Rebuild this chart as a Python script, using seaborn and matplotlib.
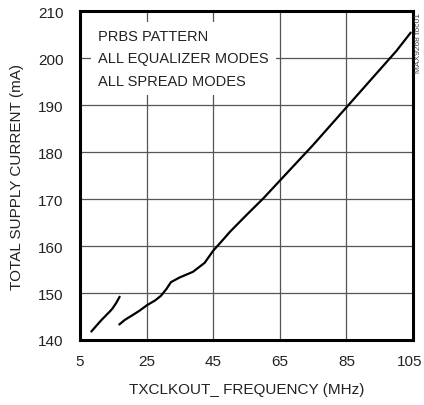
import matplotlib
matplotlib.use("Agg")
import matplotlib.pyplot as plt
import matplotlib.transforms as mtransforms
import seaborn as sns
import pandas as pd

# Low-frequency branch
freq_low = [8.4, 10.0, 11.5, 12.75, 14.0, 14.75, 15.8, 16.9]
curr_low = [141.8, 143.1, 144.3, 145.2, 146.1, 146.7, 147.8, 149.2]

# Main branch
freq_main = [16.8, 18.5, 20.8, 23.0, 25.1, 27.5, 29.3, 31.0, 32.3, 34.9, 38.9,
             42.4, 45.0, 47.9, 50.0, 55.0, 60.0, 65.0, 70.0, 75.0, 80.0, 85.0,
             90.0, 95.0, 100.0, 104.3]
curr_main = [143.3, 144.3, 145.3, 146.3, 147.4, 148.4, 149.4, 150.9, 152.3, 153.3, 154.5,
             156.4, 159.0, 161.3, 163.0, 166.6, 170.1, 173.9, 177.7, 181.5, 185.5, 189.5,
             193.5, 197.5, 201.5, 205.4]

x_ticks = [5, 25, 45, 65, 85, 105]
y_ticks = [140, 150, 160, 170, 180, 190, 200, 210]
notes = ["PRBS PATTERN", "ALL EQUALIZER MODES", "ALL SPREAD MODES"]

df = pd.concat([
    pd.DataFrame({"freq": freq_low, "curr": curr_low, "branch": "low"}),
    pd.DataFrame({"freq": freq_main, "curr": curr_main, "branch": "main"}),
])

sns.set_style("white")
plt.rcParams["font.family"] = ["Liberation Sans", "DejaVu Sans"]

fig = plt.figure(figsize=(4.24, 4.06), dpi=100)
ax = fig.add_axes([0.1887, 0.1601, 0.7854, 0.8103])

sns.lineplot(data=df, x="freq", y="curr", units="branch", estimator=None,
             sort=False, color="black", linewidth=1.6, ax=ax)

ax.set_xlim(5, 105)
ax.set_ylim(140, 210)
ax.set_xticks(x_ticks)
ax.set_yticks(y_ticks)
ax.tick_params(length=0, labelsize=11, colors="#222222")
ax.tick_params(axis="x", pad=10)
ax.tick_params(axis="y", pad=12)
ax.grid(True, color="#555555", linewidth=0.9)
ax.set_axisbelow(True)
for sp in ax.spines.values():
    sp.set_linewidth(2.2)
    sp.set_color("black")

# nudge the last x tick label so it stays inside the figure
last = ax.get_xticklabels()[-1]
last.set_transform(last.get_transform() +
                   mtransforms.ScaledTranslation(-3 / 100, 0, fig.dpi_scale_trans))

ax.set_xlabel("TXCLKOUT_ FREQUENCY (MHz)", fontsize=11, color="#222222", labelpad=10)
ax.set_ylabel("TOTAL SUPPLY CURRENT (mA)", fontsize=11, color="#222222", labelpad=10)

ax.text(0.055, 0.945, "\n".join(notes), transform=ax.transAxes, fontsize=10.5,
        color="#222222", va="top", ha="left", linespacing=1.75,
        bbox=dict(facecolor="white", edgecolor="none", pad=5), zorder=3)

fig.text(0.987, 0.968, "MAX9268 toc01", rotation=90, fontsize=6, color="#444444",
         ha="center", va="top")

fig.savefig("out.png", dpi=100)
